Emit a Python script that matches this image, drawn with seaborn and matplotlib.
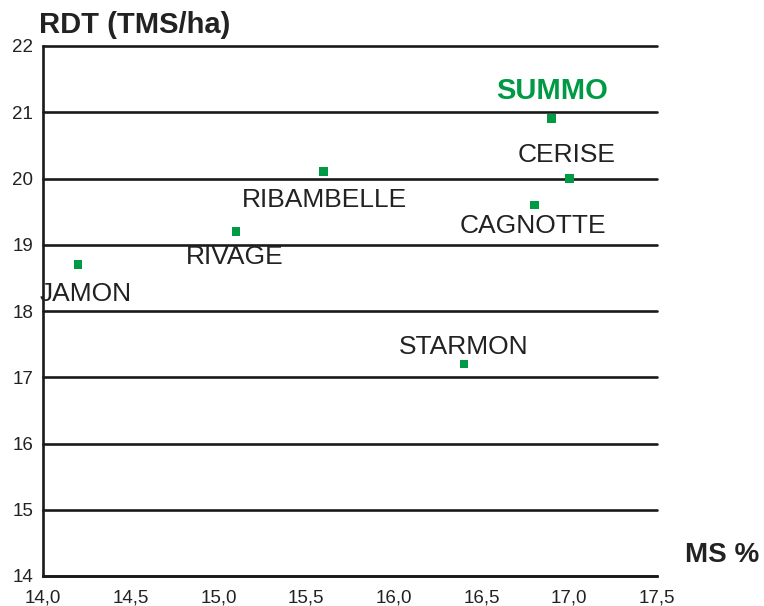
import matplotlib
matplotlib.use("Agg")
import matplotlib.pyplot as plt
import seaborn as sns
import pandas as pd
from matplotlib.ticker import FuncFormatter

# données
varietes = ["JAMON", "RIVAGE", "RIBAMBELLE", "STARMON", "CAGNOTTE", "CERISE", "SUMMO"]
ms = [14.2, 15.1, 15.6, 16.4, 16.8, 17.0, 16.9]
rdt = [18.7, 19.2, 20.1, 17.2, 19.6, 20.0, 20.9]

df = pd.DataFrame({"MS": ms, "RDT": rdt, "variete": varietes})

# décalage des étiquettes (pixels)
offsets = {
    "JAMON": (8, -29),
    "RIVAGE": (-1, -25),
    "RIBAMBELLE": (1, -28),
    "STARMON": (0, 17),
    "CAGNOTTE": (-1, -21),
    "CERISE": (-3, 23),
    "SUMMO": (0, 28),
}

vert = "#009a44"

sns.set_style("white")
plt.rcParams["font.family"] = ["Liberation Sans", "DejaVu Sans"]

fig = plt.figure(figsize=(7.64, 6.06), dpi=100)
ax = fig.add_axes([43 / 764, 30 / 606, 614 / 764, 530 / 606])

sns.scatterplot(data=df, x="MS", y="RDT", ax=ax, marker="s", s=40,
                color=vert, edgecolor="none", zorder=5, clip_on=False)

for nom, x, y in zip(varietes, ms, rdt):
    dx, dy = offsets[nom]
    if nom == "SUMMO":
        ax.annotate(nom, (x, y), xytext=(dx * 0.72, dy * 0.72), textcoords="offset points",
                    ha="center", va="center", fontsize=21, fontweight="bold", color=vert)
    else:
        ax.annotate(nom, (x, y), xytext=(dx * 0.72, dy * 0.72), textcoords="offset points",
                    ha="center", va="center", fontsize=19, color="#222222")

ax.set_xlim(14, 17.5)
ax.set_ylim(14, 22)
ax.set_xticks([14.0, 14.5, 15.0, 15.5, 16.0, 16.5, 17.0, 17.5])
ax.set_yticks(range(14, 23))
ax.xaxis.set_major_formatter(FuncFormatter(lambda v, p: f"{v:.1f}".replace(".", ",")))

ax.grid(axis="y", color="#1a1a1a", linewidth=1.9)
for gl in ax.get_ygridlines():
    gl.set_clip_on(False)
ax.set_axisbelow(True)

for side in ["top", "right"]:
    ax.spines[side].set_visible(False)
for side in ["left", "bottom"]:
    ax.spines[side].set_color("#1a1a1a")
    ax.spines[side].set_linewidth(1.9)

ax.tick_params(axis="x", direction="in", length=8.5, width=1.9, color="#1a1a1a",
               labelsize=13.5, pad=10, labelcolor="#222222")
ax.tick_params(axis="y", length=0, labelsize=13.5, pad=7, labelcolor="#222222")

ax.set_ylabel("RDT (TMS/ha)", rotation=0, fontsize=21, fontweight="bold", color="#222222")
ax.yaxis.set_label_coords(0.15, 1.04)
ax.yaxis.label.set_ha("center")
ax.yaxis.label.set_va("center")
ax.set_xlabel("MS %", fontsize=20, fontweight="bold", color="#222222")
ax.xaxis.set_label_coords(1.106, 0.04)
ax.xaxis.label.set_ha("center")
ax.xaxis.label.set_va("center")

fig.savefig("out.png", dpi=100)
